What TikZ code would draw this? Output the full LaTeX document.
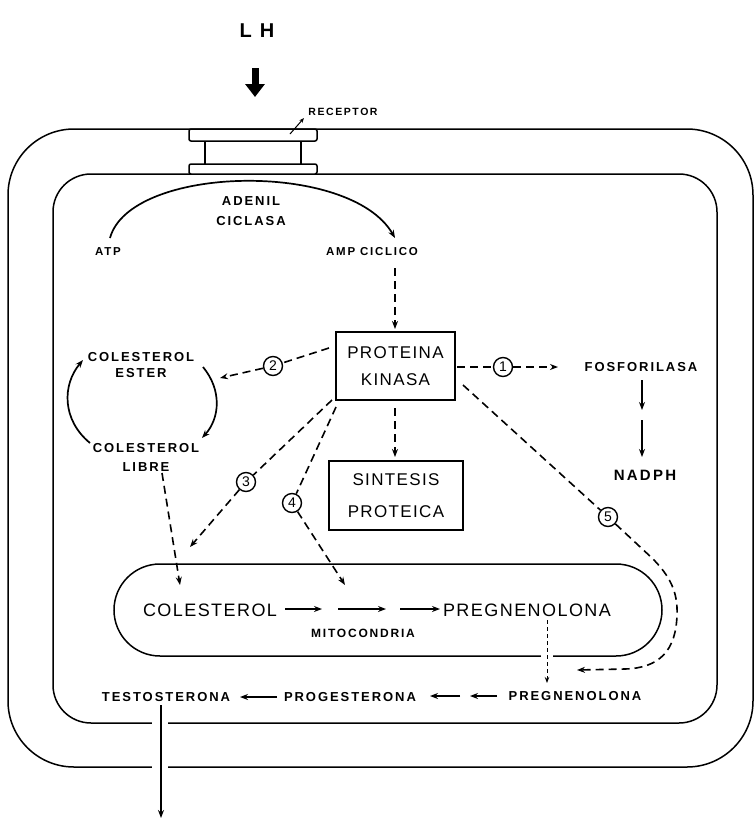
\documentclass[tikz,border=0pt]{standalone}
\usepackage{fontspec}
\setmainfont{Liberation Sans}
\newfontfamily\fb{Liberation Sans}[LetterSpace=15]
\newfontfamily\fr{Liberation Sans}[LetterSpace=8]
\usetikzlibrary{arrows.meta}
\newcommand{\fsz}[2]{\fontsize{#1}{#2}\selectfont}
\begin{document}
\begin{tikzpicture}[x=1pt,y=-1pt,
 mem/.style={line width=1.5pt},
 dsh/.style={line width=1.6pt, dash pattern=on 8pt off 5pt},
 tip/.style={-{Stealth[length=8pt,width=6pt]}},
 sol/.style={line width=1.7pt},
 lb/.style={font=\fb\bfseries\fsz{#1}{#1}, inner sep=0pt},
 lr/.style={font=\fr\fsz{#1}{#1}, inner sep=0pt},
 num/.style={circle, draw, line width=1.4pt, minimum size=19pt, inner sep=0pt, font=\fr\fsz{14}{14}},
 boxn/.style={draw, line width=1.6pt, align=center, inner sep=0pt}
]
\fill[white] (0,0) rectangle (754,823);
\useasboundingbox (0,0) rectangle (754,823);

% cell membranes
\draw[mem, rounded corners=66pt] (8,129) rectangle (753,767);
\draw[mem, rounded corners=38pt] (53,174) rectangle (717,723);
% receptor
\draw[mem, fill=white, rounded corners=2pt] (189,129) rectangle (317,141);
\draw[mem] (205,141) -- (205,164) (301,141) -- (301,164);
\draw[mem, fill=white, rounded corners=2pt] (189,164) rectangle (317,174);
% mitochondria
\draw[mem, rounded corners=46pt] (114,564) rectangle (662,656);
% gaps for crossing arrows
\draw[white, line width=16pt] (160,716) -- (160,774);
\draw[white, line width=12pt] (547,650) -- (547,662);

% texts
\node[lb=20] (lh) at (257,31) {L\hspace{8pt}H};
\node[lb=10.5] (recep) at (343,112) {RECEPTOR};
\node[font=\fb\bfseries\fsz{13}{20}, align=center, inner sep=0pt] (adenil) at (251,211) {ADENIL\\CICLASA};
\node[lb=11.5] (atp) at (108,252) {ATP};
\node[lb=11.5] (amp) at (372,252) {AMP CICLICO};
\node[boxn, font=\fr\fsz{17}{27}, minimum width=119pt, minimum height=68pt] (pk) at (395.5,366) {PROTEINA\\KINASA};
\node[boxn, font=\fr\fsz{17}{32}, minimum width=134pt, minimum height=69pt] (sp) at (396,495.5) {SINTESIS\\PROTEICA};
\node[font=\fb\bfseries\fsz{13}{16}, align=center, inner sep=0pt] (ester) at (141,365) {COLESTEROL\\ESTER};
\node[font=\fb\bfseries\fsz{13}{19}, align=center, inner sep=0pt] (libre) at (146,457) {COLESTEROL\\LIBRE};
\node[lb=13] (fosf) at (641,367) {FOSFORILASA};
\node[lb=15] (nadph) at (645,475) {NADPH};
\node[lr=18] (mcol) at (210,610) {COLESTEROL};
\node[lr=18] (mpreg) at (527,610) {PREGNENOLONA};
\node[lb=12] (mito) at (363,633) {MITOCONDRIA};
\node[lb=13] (testo) at (166,697) {TESTOSTERONA};
\node[lb=13] (proges) at (350,697) {PROGESTERONA};
\node[lb=13] (preg) at (575,696) {PREGNENOLONA};

% numbered circles
\node[num] (c1) at (503,367) {1};
\node[num] (c2) at (273,366) {2};
\node[num] (c3) at (246,482) {3};
\node[num] (c4) at (292,503) {4};
\node[num] (c5) at (608,517) {5};

% coordinates for free ends
\coordinate (lhs) at (255,68);  \coordinate (lht) at (255,97);
\coordinate (rs) at (290,134);  \coordinate (rt) at (304,118);
\coordinate (as) at (110,238);  \coordinate (at) at (395,238);
\coordinate (a1) at (395,268);  \coordinate (a2) at (395,329);
\coordinate (b1) at (395,408);  \coordinate (b2) at (395,457);
\coordinate (s1) at (457,367);  \coordinate (e1) at (558,367);
\coordinate (f1) at (642,380);  \coordinate (f2) at (642,410);
\coordinate (f3) at (642,420);  \coordinate (f4) at (642,457);
\coordinate (s2) at (329,348);  \coordinate (e2) at (220,378);
\coordinate (s3) at (332,400);  \coordinate (e3) at (190,547);
\coordinate (s4) at (336,407);  \coordinate (e4) at (345,585);
\coordinate (s5) at (463,385);  \coordinate (e5) at (577,670);
\coordinate (l1) at (162,473);  \coordinate (l2) at (180,585);
\coordinate (q1) at (547,620);  \coordinate (q2) at (547,683);
\coordinate (o1) at (161,705);  \coordinate (o2) at (161,818);
\coordinate (m1) at (285,609);  \coordinate (m2) at (322,609);
\coordinate (m3) at (338,609);  \coordinate (m4) at (386,609);
\coordinate (m5) at (400,609);  \coordinate (m6) at (440,609);
\coordinate (p1) at (277,697);  \coordinate (p2) at (240,697);
\coordinate (p3) at (460,696);  \coordinate (p4) at (430,696);
\coordinate (p5) at (497,696);  \coordinate (p6) at (470,696);

% LH arrow and receptor pointer
\draw[line width=7pt, -{Triangle[length=13pt,width=19pt]}] (lhs) -- (lht);
\draw[line width=1pt, -{Stealth[length=5pt,width=4pt]}] (rs) -- (rt);

% adenil ciclasa arc
\draw[sol, tip] (as) .. controls (130,165) and (350,160) .. (at);

% dashed
\draw[dsh, tip] (a1) -- (a2);
\draw[dsh, tip] (b1) -- (b2);
\draw[dsh] (s1) -- (c1);
\draw[dsh, tip] (c1) -- (e1);
\draw[dsh] (s2) -- (c2);
\draw[dsh, tip] (c2) -- (e2);
\draw[dsh] (s3) -- (c3);
\draw[dsh, tip] (c3) -- (e3);
\draw[dsh] (s4) -- (c4);
\draw[dsh, tip] (c4) -- (e4);
\draw[dsh] (s5) -- (c5);
\draw[dsh, tip] (c5) -- (652,558) .. controls (670,576) and (678,592) .. (677,615)
   .. controls (676,650) and (660,668) .. (625,669) -- (e5);
\draw[dsh, tip] (l1) -- (l2);
\draw[line width=1pt, dash pattern=on 4pt off 3pt, -{Stealth[length=6pt,width=4.5pt]}] (q1) -- (q2);

% cholesterol cycle
\draw[sol, tip] (90,443) .. controls (62,420) and (62,385) .. (83,360);
\draw[sol, tip] (203,367) .. controls (222,390) and (220,418) .. (202,438);

% fosforilasa -> NADPH
\draw[sol, tip] (f1) -- (f2);
\draw[sol, tip] (f3) -- (f4);

% mitochondrial arrows
\draw[sol, tip] (m1) -- (m2);
\draw[sol, tip] (m3) -- (m4);
\draw[sol, tip] (m5) -- (m6);

% bottom row
\draw[sol, tip] (p1) -- (p2);
\draw[sol, tip] (p3) -- (p4);
\draw[sol, tip] (p5) -- (p6);
\draw[sol, tip] (o1) -- (o2);
\end{tikzpicture}
\end{document}
